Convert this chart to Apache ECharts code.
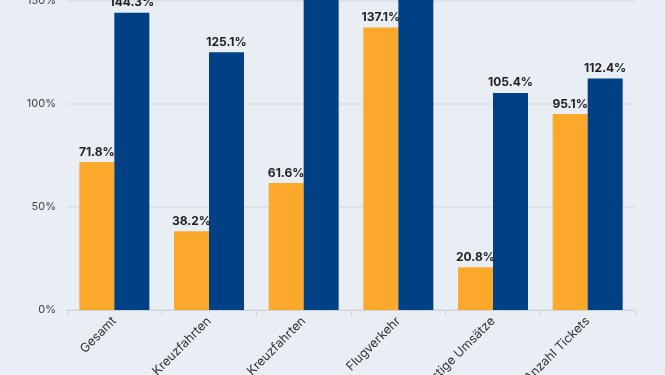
<!DOCTYPE html>
<html>
<head>
<meta charset="utf-8">
<script src="https://cdn.jsdelivr.net/npm/echarts@6/dist/echarts.min.js"></script>
<style>
  html, body { margin: 0; padding: 0; background: #e9eef5; }
  #chart { width: 665px; height: 375px; }
</style>
</head>
<body>
<div id="chart"></div>
<script>
// Kategorien (links im Bild abgeschnitten)
const categories = ['Gesamt', 'Hochsee Kreuzfahrten', 'Fluss Kreuzfahrten', 'Flugverkehr', 'Sonstige Umsätze', 'Anzahl Tickets'];
// Werte in Prozent
const seriesA = [71.8, 38.2, 61.6, 137.1, 20.8, 95.1];
const seriesB = [144.3, 125.1, 175.0, 185.0, 105.4, 112.4];
const yTicks = [0, 50, 100, 150, 200];

const chart = echarts.init(document.getElementById('chart'));

const labelStyle = {
  show: true,
  position: 'top',
  distance: 4,
  color: '#222',
  fontFamily: 'Inter',
  fontWeight: 'bold',
  fontSize: 12,
  formatter: p => p.value.toFixed(1) + '%'
};

chart.setOption({
  backgroundColor: '#e9eef5',
  animation: false,
  grid: { left: 67, right: 30, top: -102, bottom: 65, outerBoundsMode: 'none', containLabel: false },
  xAxis: {
    type: 'category',
    data: categories,
    axisLine: { show: true, lineStyle: { color: '#cdd3db' } },
    axisTick: { show: true, length: 6, lineStyle: { color: '#cdd3db' } },
    axisLabel: {
      rotate: 45,
      margin: 9,
      color: '#333',
      fontFamily: 'Inter',
      fontSize: 12.5,
      interval: 0
    }
  },
  yAxis: {
    type: 'value',
    min: yTicks[0],
    max: yTicks[yTicks.length - 1],
    interval: 50,
    axisLine: { show: false },
    axisTick: { show: false },
    splitLine: { lineStyle: { color: '#d9dee5', width: 1.5 } },
    axisLabel: {
      color: '#444',
      fontFamily: 'Inter',
      fontSize: 11,
      margin: 11,
      formatter: v => v + '%'
    }
  },
  series: [
    {
      name: 'A',
      type: 'bar',
      data: seriesA,
      barWidth: 35,
      barGap: '0%',
      itemStyle: { color: '#fba82b' },
      label: labelStyle
    },
    {
      name: 'B',
      type: 'bar',
      data: seriesB,
      barWidth: 35,
      barGap: '0%',
      itemStyle: { color: '#004085' },
      label: labelStyle
    }
  ]
});
</script>
</body>
</html>
